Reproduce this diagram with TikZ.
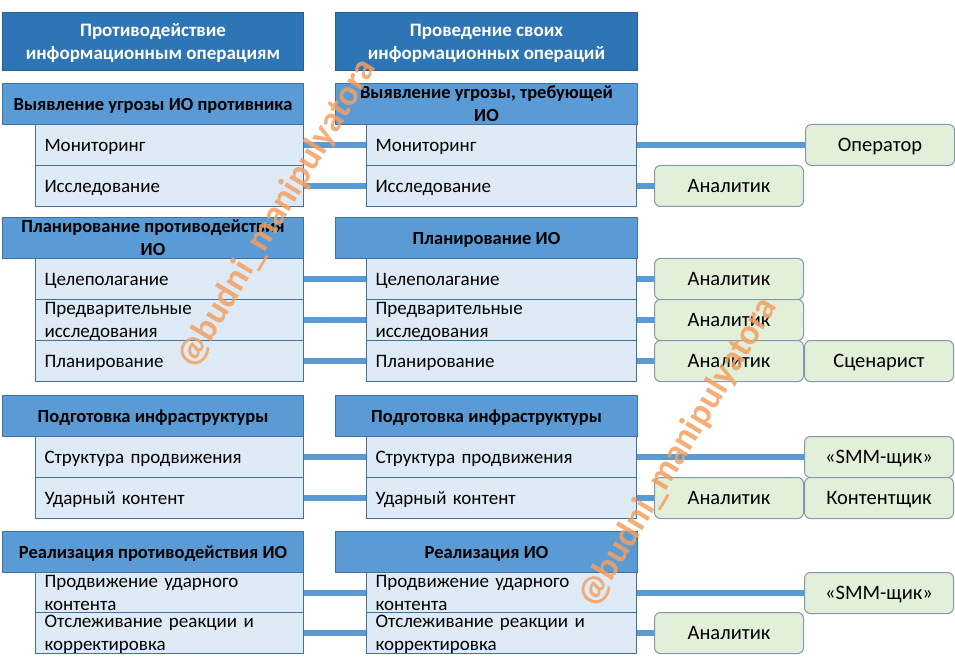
\documentclass[tikz,border=0pt]{standalone}
\usepackage{fontspec}
\setmainfont{Carlito}
\pgfdeclarelayer{background}
\pgfdeclarelayer{foreground}
\pgfsetlayers{background,main,foreground}
\definecolor{titleblue}{HTML}{2E75B6}
\definecolor{titleborder}{HTML}{2A5D8F}
\definecolor{headblue}{HTML}{5B9BD5}
\definecolor{boxborder}{HTML}{41719C}
\definecolor{itemfill}{HTML}{DEEBF7}
\definecolor{rolefill}{HTML}{E2F0D9}
\definecolor{roleborder}{HTML}{8497B0}
\definecolor{wmark}{HTML}{F4A060}
\tikzset{
  titlebox/.style={draw=titleborder, fill=titleblue, text=white, line width=1pt,
    font=\bfseries\fontsize{19}{23}\selectfont, align=center, anchor=north west,
    inner sep=0pt, minimum height=58pt, text depth=0pt},
  headbox/.style={draw=boxborder, fill=headblue, text=black, line width=1pt,
    font=\bfseries\fontsize{18.5}{23}\selectfont, align=center, anchor=north west,
    inner sep=0pt, minimum height=41pt, text depth=0pt},
  itembox/.style={draw=boxborder, fill=itemfill, text=black, line width=1pt,
    font=\fontsize{19}{23}\selectfont, align=left, anchor=north west,
    inner xsep=9pt, inner ysep=0pt, minimum height=41pt, text depth=0pt},
  twoline/.style={text depth=23pt},
  litem/.style={itembox, text width=250pt, minimum width=268pt},
  ritem/.style={itembox, text width=252pt, minimum width=270pt},
  rolebox/.style={draw=roleborder, fill=rolefill, text=black, line width=1pt,
    rounded corners=6pt, font=\fontsize{20.5}{23}\selectfont, align=center,
    anchor=north west, inner sep=0pt, minimum height=41pt, minimum width=149pt,
    text depth=0pt},
  link/.style={draw=headblue, line width=6pt},
  watermark/.style={text=wmark, opacity=0.85, font=\bfseries\fontsize{36}{36}\selectfont, rotate=59}
}
\begin{document}
\begin{tikzpicture}[x=1pt,y=-1pt]
\useasboundingbox (0,0) rectangle (955,668);
% titles
\node[titlebox, minimum width=301pt] (t1) at (2,12) {Противодействие\\информационным операциям};
\node[titlebox, minimum width=302pt] (t2) at (335,12) {Проведение своих\\информационных операций};
% section 1
\node[headbox, minimum width=301pt] (h1) at (2,83) {Выявление угрозы ИО противника};
\node[litem] (a1) at (35,124) {Мониторинг};
\node[litem] (a2) at (35,165) {Исследование};
\node[headbox, minimum width=302pt] (g1) at (335,83) {Выявление угрозы, требующей\\ИО};
\node[ritem] (b1) at (366,124) {Мониторинг};
\node[ritem] (b2) at (366,165) {Исследование};
\node[rolebox] (r1) at (805,124) {Оператор};
\node[rolebox] (r2) at (654,165) {Аналитик};
% section 2
\node[headbox, minimum width=301pt] (h2) at (2,217) {Планирование противодействия\\ИО};
\node[litem] (a3) at (35,258) {Целеполагание};
\node[litem, twoline] (a4) at (35,299) {Предварительные\\исследования};
\node[litem] (a5) at (35,340) {Планирование};
\node[headbox, minimum width=302pt] (g2) at (335,217) {Планирование ИО};
\node[ritem] (b3) at (366,258) {Целеполагание};
\node[ritem, twoline] (b4) at (366,299) {Предварительные\\исследования};
\node[ritem] (b5) at (366,340) {Планирование};
\node[rolebox] (r3) at (654,258) {Аналитик};
\node[rolebox] (r4) at (654,299) {Аналитик};
\node[rolebox] (r5) at (654,340) {Аналитик};
\node[rolebox] (r6) at (804,340) {Сценарист};
% section 3
\node[headbox, minimum width=301pt] (h3) at (2,395) {Подготовка инфраструктуры};
\node[litem] (a6) at (35,436) {Структура продвижения};
\node[litem] (a7) at (35,477) {Ударный контент};
\node[headbox, minimum width=302pt] (g3) at (335,395) {Подготовка инфраструктуры};
\node[ritem] (b6) at (366,436) {Структура продвижения};
\node[ritem] (b7) at (366,477) {Ударный контент};
\node[rolebox] (r7) at (804,436) {«SMM-щик»};
\node[rolebox] (r8) at (654,477) {Аналитик};
\node[rolebox] (r9) at (804,477) {Контентщик};
% section 4
\node[headbox, minimum width=301pt] (h4) at (2,531) {Реализация противодействия ИО};
\node[litem, twoline] (a8) at (35,572) {Продвижение ударного\\контента};
\node[litem, twoline] (a9) at (35,612) {Отслеживание реакции и\\корректировка};
\node[headbox, minimum width=302pt] (g4) at (335,531) {Реализация ИО};
\node[ritem, twoline] (b8) at (366,572) {Продвижение ударного\\контента};
\node[ritem, twoline] (b9) at (366,612) {Отслеживание реакции и\\корректировка};
\node[rolebox] (r10) at (804,572) {«SMM-щик»};
\node[rolebox] (r11) at (654,612) {Аналитик};
% connectors
\begin{pgfonlayer}{background}
\foreach \i in {1,...,9} {\draw[link] (a\i.east) -- (b\i.west);}
\draw[link] (b1.east) -- (r1.west);
\draw[link] (b2.east) -- (r2.west);
\draw[link] (b3.east) -- (r3.west);
\draw[link] (b4.east) -- (r4.west);
\draw[link] (b5.east) -- (r5.west);
\draw[link] (b6.east) -- (r7.west);
\draw[link] (b7.east) -- (r8.west);
\draw[link] (b8.east) -- (r10.west);
\draw[link] (b9.east) -- (r11.west);
\end{pgfonlayer}
% watermarks
\begin{pgfonlayer}{foreground}
\node[watermark] (w1) at (277,214) {@budni\_manipulyatora};
\node[watermark] (w2) at (678,453) {@budni\_manipulyatora};
\end{pgfonlayer}
\end{tikzpicture}
\end{document}
